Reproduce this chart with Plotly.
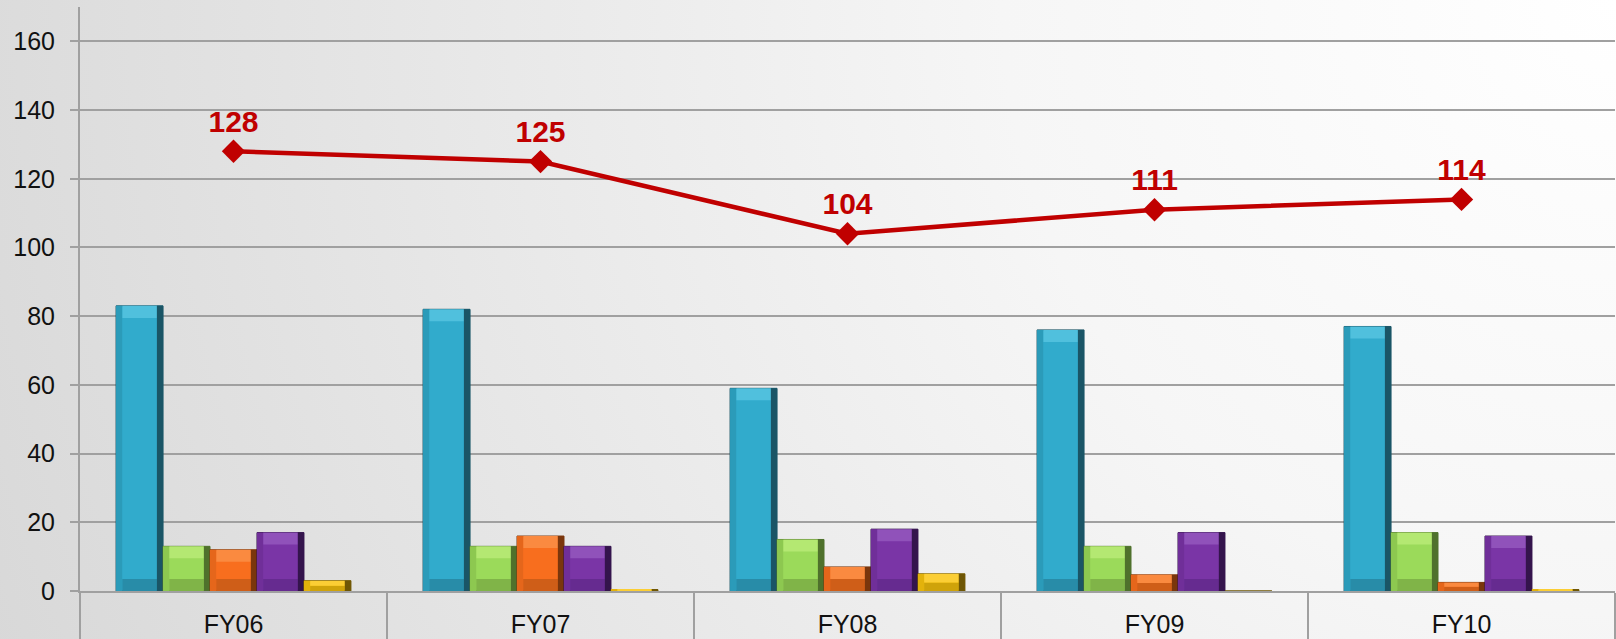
import base64
import plotly.graph_objects as go

categories = ["FY06", "FY07", "FY08", "FY09", "FY10"]
series_a = [83, 82, 59, 76, 77]
series_b = [13, 13, 15, 13, 17]
series_c = [12, 16, 7, 4.7, 2.5]
series_d = [17, 13, 18, 17, 16]
series_e = [3, 0.4, 5, 0, 0.4]
total = [128, 125, 104, 111, 114]

# (values, main, top highlight, bottom shade, left shade, right shade)
bar_series = [
    (series_a, "#31abcc", "#50c0dd", "#288ca8", "#2b9bb9", "#1a5566"),
    (series_b, "#9bda5a", "#b4e872", "#80b448", "#8dc850", "#4f712c"),
    (series_c, "#f86e1e", "#fa8a40", "#cf5e18", "#e5661b", "#7a360c"),
    (series_d, "#7a35a6", "#9052ba", "#662b90", "#702f99", "#34144c"),
    (series_e, "#f5c00c", "#fbce35", "#cfa30a", "#e3b20b", "#6e5605"),
]

W, H = 1616, 639
ml, mr, mt, mb = 80, 1, 7, 48
pw, ph = W - ml - mr, H - mt - mb

BARGAP = 0.235
n = len(bar_series)
bw = (1 - BARGAP) / n
start = -(1 - BARGAP) / 2
bevel_h = 3.5      # data units (~12 px)
side_w = 0.02      # category units (~6 px)

svg = f'''<svg xmlns="http://www.w3.org/2000/svg" width="{W}" height="{H}" viewBox="0 0 {W} {H}" preserveAspectRatio="none">
<defs><radialGradient id="g" gradientUnits="userSpaceOnUse" cx="{W}" cy="0" r="1750">
<stop offset="0" stop-color="#ffffff"/><stop offset="0.35" stop-color="#f6f6f6"/><stop offset="1" stop-color="#d8d8d8"/></radialGradient></defs>
<rect width="{W}" height="{H}" fill="url(#g)"/></svg>'''
bg_src = "data:image/svg+xml;base64," + base64.b64encode(svg.encode()).decode()

fig = go.Figure()
for i, (vals, col, top, bot, left, right) in enumerate(bar_series):
    off = start + i * bw
    fig.add_trace(go.Bar(
        x=categories, y=vals, width=bw, offset=off,
        marker=dict(color=col, line=dict(color=right, width=1)),
        showlegend=False, hoverinfo="y",
    ))
    hh = [min(bevel_h, v / 2) for v in vals]
    # bottom shade
    fig.add_trace(go.Bar(
        x=categories, y=hh, base=[0] * len(vals), width=bw - 2 * side_w, offset=off + side_w,
        marker=dict(color=bot, line=dict(width=0)), showlegend=False, hoverinfo="skip",
    ))
    # top highlight
    fig.add_trace(go.Bar(
        x=categories, y=hh, base=[v - h for v, h in zip(vals, hh)],
        width=bw - 2 * side_w, offset=off + side_w,
        marker=dict(color=top, line=dict(width=0)), showlegend=False, hoverinfo="skip",
    ))
    # left shade
    fig.add_trace(go.Bar(
        x=categories, y=vals, width=side_w, offset=off,
        marker=dict(color=left, line=dict(width=0)), showlegend=False, hoverinfo="skip",
    ))
    # right shade
    fig.add_trace(go.Bar(
        x=categories, y=vals, width=side_w, offset=off + bw - side_w,
        marker=dict(color=right, line=dict(width=0)), showlegend=False, hoverinfo="skip",
    ))

fig.add_trace(go.Scatter(
    x=categories, y=total,
    mode="lines+markers+text",
    line=dict(color="#c00000", width=4.5),
    marker=dict(symbol="diamond", size=18, color="#c00000"),
    text=[str(v) for v in total],
    textposition="top center",
    textfont=dict(family="Liberation Sans, Arial, sans-serif", size=30, color="#c00000", weight="bold"),
    showlegend=False,
))

fig.update_layout(
    width=W, height=H,
    margin=dict(l=ml, r=mr, t=mt, b=mb, pad=0, autoexpand=False),
    paper_bgcolor="#e8e8e8",
    plot_bgcolor="rgba(0,0,0,0)",
    barmode="overlay",
    font=dict(family="Liberation Sans, Arial, sans-serif", size=25, color="#111111"),
    images=[dict(
        source=bg_src, xref="paper", yref="paper",
        x=-ml / pw, y=1 + mt / ph, sizex=W / pw, sizey=H / ph,
        xanchor="left", yanchor="top", sizing="stretch", layer="below",
    )],
    xaxis=dict(
        type="category",
        automargin=False,
        range=[-0.5, len(categories) - 0.5],
        tickson="boundaries",
        ticks="outside", ticklen=60, tickwidth=2, tickcolor="#a0a0a0",
        ticklabelstandoff=10,
        showgrid=False,
        showline=True, linecolor="#a0a0a0", linewidth=2,
        tickfont=dict(size=25, color="#111111"),
    ),
    yaxis=dict(
        automargin=False,
        range=[0, 170],
        tickvals=[0, 20, 40, 60, 80, 100, 120, 140, 160],
        ticks="outside", ticklen=8, tickwidth=2, tickcolor="#a0a0a0",
        ticklabelstandoff=10,
        showgrid=True, gridcolor="#a0a0a0", gridwidth=2,
        showline=True, linecolor="#a0a0a0", linewidth=2,
        zeroline=False,
        tickfont=dict(size=25, color="#111111"),
    ),
)

fig.write_html(
    "out.html",
    config={"displayModeBar": False},
    post_script="document.body.style.margin='0';document.body.style.overflow='hidden';",
)
